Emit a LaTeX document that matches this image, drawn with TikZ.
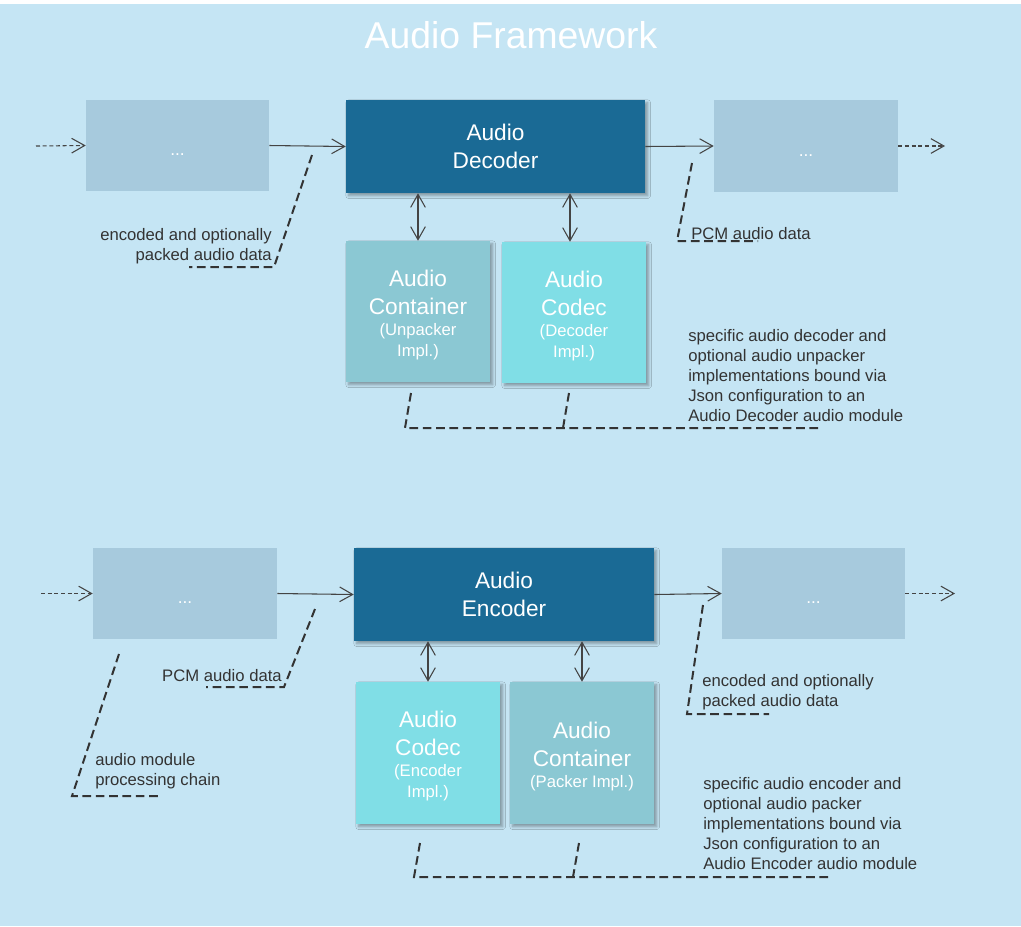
\documentclass[tikz,border=0pt]{standalone}
\usepackage{fontspec}
\setmainfont{Liberation Sans}
\usetikzlibrary{arrows.meta,shadows.blur}
\definecolor{bgc}{HTML}{C5E5F4}
\definecolor{ghostc}{HTML}{A7CADD}
\definecolor{mainc}{HTML}{1A6A95}
\definecolor{contc}{HTML}{8BC8D3}
\definecolor{codecc}{HTML}{80DEE6}
\definecolor{linec}{HTML}{444444}
\definecolor{textc}{HTML}{333333}
\newcommand\bigtxt{\fontsize{17}{21}\selectfont}
\newcommand\smtxt{\fontsize{12.5}{15.75}\selectfont}
\newcommand\topstrut{\rule{0pt}{17.5pt}}
\begin{document}
\begin{tikzpicture}[x=0.75pt,y=-0.75pt,
  boxsize/.style 2 args={minimum width=#1*0.75pt, minimum height=#2*0.75pt},
  ghost/.style={fill=ghostc, inner sep=0pt, text=white, font=\fontsize{13}{15}\selectfont, text height=15pt, text depth=0pt},
  shadowed/.style={blur shadow={shadow xshift=2pt, shadow yshift=-2pt, shadow blur steps=6, shadow opacity=35}},
  mainbox/.style={fill=mainc, shadowed, inner sep=0pt, text=white, font=\bigtxt, align=center},
  contbox/.style={fill=contc, shadowed, inner sep=0pt, text=white, font=\bigtxt, align=center},
  codecbox/.style={fill=codecc, shadowed, inner sep=0pt, text=white, font=\bigtxt, align=center},
  tip/.tip={Straight Barb[length=9.75pt,width=11pt]},
  conn/.style={draw=linec, line width=0.8pt, -tip},
  dblconn/.style={draw=linec, line width=0.8pt, tip-tip},
  dashconn/.style={conn, dash pattern=on 3pt off 2pt},
  callout/.style={draw=textc, line width=1.5pt, dash pattern=on 6.5pt off 3.5pt},
  lab/.style={text=textc, font=\fontsize{12.5}{15}\selectfont, inner sep=0pt},
  ]
\useasboundingbox (0,0) rectangle (1021,926);
\fill[white] (0,0) rectangle (1021,926);
\fill[bgc] (0,4) rectangle (1021,926);

\node[text=white, font=\fontsize{28}{32}\selectfont, inner sep=0pt] (title) at (511,35) {Audio Framework};

% ---------- top: decoder chain ----------
\node[ghost, boxsize={183}{91}] (gL1) at (177.5,145.5) {...};
\node[mainbox, boxsize={299}{93}] (dec) at (495.5,146.5) {Audio\\Decoder};
\node[ghost, boxsize={184}{92}] (gR1) at (806,146) {...};
\node[contbox, boxsize={144}{141}] (cont1) at (418,311.5) {\topstrut Audio\\Container\\[-5.25pt]\smtxt (Unpacker\\[-5.25pt]\smtxt Impl.)};
\node[codecbox, boxsize={144}{141}] (codec1) at (574,312.5) {\topstrut Audio\\Codec\\[-5.25pt]\smtxt (Decoder\\[-5.25pt]\smtxt Impl.)};

\coordinate (in1) at (36,146);
\coordinate (out1) at (945,146);
\draw[dashconn] (in1) -- (gL1.west);
\draw[conn] (gL1.east) -- (dec.west);
\draw[conn] (dec.east) -- (gR1.west);
\draw[dashconn] (gR1.east) -- (out1);
\draw[dblconn] (cont1.north) -- (cont1.north |- dec.south);
\draw[dblconn] ([xshift=-3pt]codec1.north) -- ([xshift=-3pt]codec1.north |- dec.south);

\node[lab, align=right, anchor=east] (l1) at (272,246) {encoded and optionally\\packed audio data};
\node[lab, anchor=base west] (l2) at (691,239) {PCM audio data};
\node[lab, align=left, anchor=west] (d1) at (688,376) {specific audio decoder and\\optional audio unpacker\\implementations bound via\\Json configuration to an\\Audio Decoder audio module};

\draw[callout] (312,155) -- (274,267) -- (189,267);
\draw[callout] (692,163) -- (677,241) -- (758,241);
\draw[callout] (411,393) -- (405,428) -- (818,428);
\draw[callout] (569,393) -- (563,428);

% ---------- bottom: encoder chain ----------
\node[ghost, boxsize={184}{91}] (gL2) at (185,593.5) {...};
\node[mainbox, boxsize={300}{93}] (enc) at (504,594.5) {Audio\\Encoder};
\node[ghost, boxsize={183}{91}] (gR2) at (813.5,593.5) {...};
\node[codecbox, boxsize={144}{142}] (codec2) at (428,753) {\topstrut Audio\\Codec\\[-5.25pt]\smtxt (Encoder\\[-5.25pt]\smtxt Impl.)};
\node[contbox, boxsize={144}{142}] (cont2) at (582,753) {\topstrut Audio\\Container\\[-5.25pt]\smtxt (Packer Impl.)};

\coordinate (in2) at (41,593.5);
\coordinate (out2) at (955,593.5);
\draw[dashconn] (in2) -- (gL2.west);
\draw[conn] (gL2.east) -- (enc.west);
\draw[conn] (enc.east) -- (gR2.west);
\draw[dashconn] (gR2.east) -- (out2);
\draw[dblconn] (codec2.north) -- (codec2.north |- enc.south);
\draw[dblconn] (cont2.north) -- (cont2.north |- enc.south);

\node[lab, anchor=base east] (l3) at (282,681) {PCM audio data};
\node[lab, align=left, anchor=west] (l4) at (95,771) {audio module\\processing chain};
\node[lab, align=left, anchor=west] (l5) at (702,692) {encoded and optionally\\packed audio data};
\node[lab, align=left, anchor=west] (d2) at (703,824) {specific audio encoder and\\optional audio packer\\implementations bound via\\Json configuration to an\\Audio Encoder audio module};

\draw[callout] (315,609) -- (284,687) -- (206,687);
\draw[callout] (119,654) -- (72,796) -- (158,796);
\draw[callout] (703,605) -- (687,714) -- (769,714);
\draw[callout] (420,843) -- (414,877) -- (828,877);
\draw[callout] (579,843) -- (573,877);
\end{tikzpicture}
\end{document}
